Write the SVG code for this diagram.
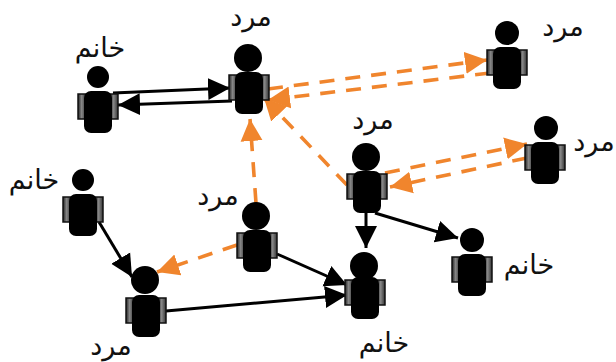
<svg xmlns="http://www.w3.org/2000/svg" width="616" height="362" viewBox="0 0 616 362">
<style>
text{font-family:"DejaVu Sans",sans-serif;font-size:27px;fill:#111;text-anchor:middle}
.k{fill:none;stroke:#000;stroke-width:3}
.o{fill:none;stroke:#f0852d;stroke-width:3.6;stroke-dasharray:15 11}
</style>
<defs>
<linearGradient id="arm" x1="0" x2="1" y1="0" y2="0"><stop offset="0" stop-color="#222"/><stop offset=".45" stop-color="#888"/><stop offset="1" stop-color="#333"/></linearGradient>
<marker id="ka" markerUnits="userSpaceOnUse" markerWidth="24" markerHeight="24" refX="22" refY="12" orient="auto"><path d="M0 1L22 12L0 23Z" fill="#000"/></marker>
<marker id="oa" markerUnits="userSpaceOnUse" markerWidth="24" markerHeight="24" refX="22" refY="12" orient="auto"><path d="M0 1L22 12L0 23Z" fill="#f0852d"/></marker>
<g id="fig">
<rect x="-20" y="17" width="8" height="25" fill="url(#arm)" stroke="#111" stroke-width="1.5"/>
<rect x="12" y="17" width="8" height="25" fill="url(#arm)" stroke="#111" stroke-width="1.5"/>
<rect x="-14" y="14" width="28" height="42" rx="7" fill="#000"/>
</g>
</defs>
<g id="connectors">
<path class="k" d="M113 93L230 88" marker-end="url(#ka)"/>
<path class="k" d="M232 101L118 105" marker-end="url(#ka)"/>
<path class="k" d="M366 213V248" marker-end="url(#ka)"/>
<path class="k" d="M375 213L458 238" marker-end="url(#ka)"/>
<path class="k" d="M99 222L132 277" marker-end="url(#ka)"/>
<path class="k" d="M277 254L347 285" marker-end="url(#ka)"/>
<path class="k" d="M166 311L347 295" marker-end="url(#ka)"/>
<path class="o" d="M268 89L487 60" marker-end="url(#oa)"/>
<path class="o" d="M490 73L268 100" marker-end="url(#oa)"/>
<path class="o" d="M347 185L264 98" marker-end="url(#oa)"/>
<path class="o" d="M256 203L250 119" marker-end="url(#oa)"/>
<path class="o" d="M237 245L157 272" marker-end="url(#oa)"/>
<path class="o" d="M385 173L527 144" marker-end="url(#oa)"/>
<path class="o" d="M527 158L390 187" marker-end="url(#oa)"/>
</g>
<g id="n1"><use href="#fig" x="98" y="77"/><circle cx="98" cy="77" r="11"/><text x="100" y="57">خانم</text></g>
<g id="n2"><use href="#fig" x="249" y="58"/><circle cx="248" cy="58" r="14"/><text x="251" y="26">مرد</text></g>
<g id="n3"><use href="#fig" x="507" y="33"/><circle cx="507" cy="33" r="12"/><text x="563" y="36">مرد</text></g>
<g id="n4"><use href="#fig" x="545" y="128"/><circle cx="546" cy="128" r="12"/><text x="594" y="151">مرد</text></g>
<g id="n5"><use href="#fig" x="367" y="157"/><circle cx="366" cy="157" r="14"/><text x="373" y="129">مرد</text></g>
<g id="n6"><use href="#fig" x="472" y="240"/><circle cx="472" cy="240" r="12"/><text x="529" y="274">خانم</text></g>
<g id="n7"><use href="#fig" x="365" y="263"/><circle cx="364" cy="266" r="14"/><text x="384" y="352">خانم</text></g>
<g id="n8"><use href="#fig" x="83" y="180"/><circle cx="83" cy="180" r="11"/><text x="34" y="189">خانم</text></g>
<g id="n9"><use href="#fig" x="257" y="216"/><circle cx="256" cy="216" r="14"/><text x="218" y="205">مرد</text></g>
<g id="n10"><use href="#fig" x="146" y="281"/><circle cx="145" cy="280" r="14"/><text x="111" y="355">مرد</text></g>
</svg>
